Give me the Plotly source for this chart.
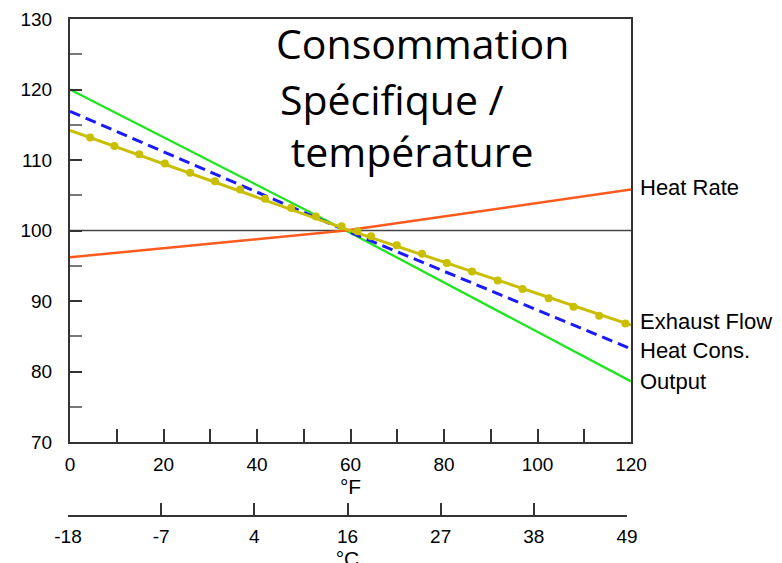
import plotly.graph_objects as go

# ---- data ----
temp_f = [0, 59, 120]
output_pct = [120.0, 100.0, 78.6]
heat_cons_pct = [116.9, 100.0, 83.2]
heat_rate_pct = [96.2, 100.0, 105.8]
exhaust_line_f = [0, 59, 120]
exhaust_line_pct = [114.2, 100.2, 86.6]
exhaust_marker_f = [4.3, 9.5, 14.8, 20.3, 25.7, 31.0, 36.4, 41.7, 47.3, 52.6, 58.1, 61.5,
                    64.4, 69.9, 75.3, 80.6, 86.0, 91.5, 96.8, 102.4, 107.7, 113.2, 118.8]
exhaust_marker_pct = [113.2, 112.0, 110.8, 109.5, 108.2, 107.0, 105.8, 104.5, 103.2, 102.0, 100.6, 99.9,
                      99.2, 97.9, 96.7, 95.4, 94.2, 92.9, 91.7, 90.4, 89.2, 87.9, 86.8]

x_tick_vals = [0, 10, 20, 30, 40, 50, 60, 70, 80, 90, 100, 110, 120]
x_tick_text = ["0", "", "20", "", "40", "", "60", "", "80", "", "100", "", "120"]
c_tick_vals = [0, 20, 40, 60, 80, 100, 120]
c_tick_text = ["-18", "-7", "4", "16", "27", "38", "49"]
y_tick_vals = [70, 80, 90, 100, 110, 120, 130]
y_tick_text = ["70", "80", "90", "100", "110", "120", "130"]

labels = ["Heat Rate", "Exhaust Flow", "Heat Cons.", "Output"]
title_lines = ["Consommation", "Spécifique /", " température"]

GREEN = "#1ee61e"
BLUE = "#1a1aff"
RED = "#ff5a1e"
YELLOW = "#c9bf00"
FONT = "Liberation Sans, Arial, sans-serif"

fig = go.Figure()
fig.add_trace(go.Scatter(x=temp_f, y=output_pct, mode="lines",
                         line=dict(color=GREEN, width=2.3), hoverinfo="skip"))
fig.add_trace(go.Scatter(x=temp_f, y=heat_cons_pct, mode="lines",
                         line=dict(color=BLUE, width=3, dash="11px,6px"), hoverinfo="skip"))
fig.add_trace(go.Scatter(x=temp_f, y=heat_rate_pct, mode="lines",
                         line=dict(color=RED, width=2.5), hoverinfo="skip"))
fig.add_trace(go.Scatter(x=exhaust_line_f, y=exhaust_line_pct, mode="lines",
                         line=dict(color=YELLOW, width=3), hoverinfo="skip"))
fig.add_trace(go.Scatter(x=exhaust_marker_f, y=exhaust_marker_pct, mode="markers",
                         marker=dict(color=YELLOW, size=8), hoverinfo="skip"))
# carrier for the Celsius axis (on its own tiny, invisible y axis)
fig.add_trace(go.Scatter(x=c_tick_vals, y=[None] * len(c_tick_vals), xaxis="x2", yaxis="y2",
                         mode="markers", hoverinfo="skip"))

# reference line at 100 %
fig.add_shape(type="line", xref="x", yref="y", x0=0, x1=120, y0=100, y1=100,
              line=dict(color="#444", width=1.5), layer="below")

# end labels
ends = [heat_rate_pct[-1], exhaust_line_pct[-1], heat_cons_pct[-1], output_pct[-1]]
label_shift = [2, 3, -2, 0]
for lab, yv, sh in zip(labels, ends, label_shift):
    fig.add_annotation(x=1, xref="paper", y=yv, yref="y", text=lab, showarrow=False,
                       xanchor="left", yanchor="middle", xshift=7, yshift=sh,
                       font=dict(family=FONT, size=22, color="#000"))

# title lines
W, H = 563.0, 496.0
def px(xp):
    return (xp - 68) / W
def py(yp):
    return (515 - yp) / H
title_pos = [(274, 43), (278, 99), (278, 151)]
for t, (xx, yy) in zip(title_lines, title_pos):
    fig.add_annotation(x=px(xx), y=py(yy), xref="paper", yref="paper", text=t,
                       showarrow=False, xanchor="left", yanchor="middle",
                       font=dict(family="Open Sans, sans-serif", size=41, color="#000"))

fig.update_layout(
    width=782, height=563,
    margin=dict(l=60, r=159, t=11, b=56, autoexpand=False),
    paper_bgcolor="white", plot_bgcolor="rgba(0,0,0,0)",
    showlegend=False,
    font=dict(family=FONT, size=19, color="#000"),
    xaxis=dict(domain=[2 / W, 1], range=[0, 120], tickmode="array",
               tickvals=x_tick_vals, ticktext=x_tick_text, automargin=False,
               ticks="inside", ticklen=13, tickwidth=1.5, tickcolor="#333",
               showline=True, linecolor="#333", linewidth=2, mirror=True,
               showgrid=False, zeroline=False,
               tickfont=dict(family=FONT, size=19, color="#000"),
               ticklabelstandoff=4,
               title=dict(text="°F", standoff=2, font=dict(family=FONT, size=21, color="#000"))),
    xaxis2=dict(domain=[0, 559 / W], range=[0, 120], anchor="y2", automargin=False,
                tickmode="array", tickvals=c_tick_vals, ticktext=c_tick_text,
                ticks="inside", ticklen=12, tickwidth=1.5, tickcolor="#333",
                showline=True, linecolor="#333", linewidth=2,
                showgrid=False, zeroline=False,
                tickfont=dict(family=FONT, size=19, color="#000"),
                ticklabelstandoff=3,
                title=dict(text="°C", standoff=2, font=dict(family=FONT, size=21, color="#000"))),
    yaxis2=dict(domain=[0, 0.002], anchor="x2", visible=False, range=[0, 1]),
    yaxis=dict(domain=[(515 - 442) / H, 1], range=[70, 130], tickmode="array",
               tickvals=y_tick_vals, ticktext=y_tick_text, automargin=False,
               ticks="inside", ticklen=12, tickwidth=1.5, tickcolor="#333",
               minor=dict(ticks="inside", ticklen=12, tickwidth=1.5, tickcolor="#777", dtick=5),
               showline=True, linecolor="#333", linewidth=2, mirror=True,
               showgrid=False, zeroline=False,
               ticklabelstandoff=12,
               tickfont=dict(family=FONT, size=19, color="#000")),
)

fig.write_html("out.html")
